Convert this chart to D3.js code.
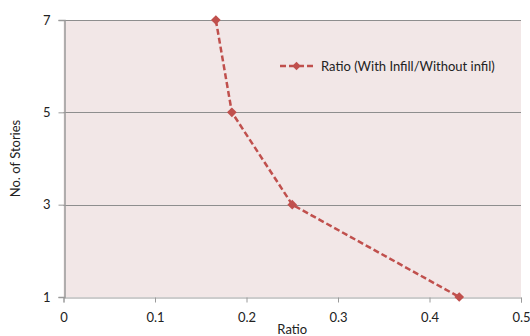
<!DOCTYPE html>
<html>
<head>
<meta charset="utf-8">
<script src="https://cdn.jsdelivr.net/npm/d3@7"></script>
<style>
  html, body { margin: 0; padding: 0; background: #fff; }
  svg { display: block; font-family: Lato, "Open Sans", sans-serif; }
</style>
</head>
<body>
<svg id="chart" width="530" height="336"></svg>
<script>
// Ratio of drift (with infill / without infill) per storey count
const stories = [7, 5, 3, 1];
const ratios = [0.1665, 0.184, 0.25, 0.4325];
const xTicks = [0, 0.1, 0.2, 0.3, 0.4, 0.5];
const yTicks = [1, 3, 5, 7];
const seriesName = "Ratio (With Infill/Without infil)";

const W = 530, H = 336;
const m = { top: 20, right: 9, bottom: 39, left: 63.5 };
const svg = d3.select("#chart");

const x = d3.scaleLinear().domain([0, 0.5]).range([m.left, W - m.right]);
const y = d3.scaleLinear().domain([1, 7]).range([H - m.bottom, m.top]);

// plot area
svg.append("rect")
  .attr("x", x(0)).attr("y", y(7))
  .attr("width", x(0.5) - x(0)).attr("height", y(1) - y(7))
  .attr("fill", "#f2e7e7");

// horizontal gridlines
svg.append("g").selectAll("line")
  .data(yTicks.filter(d => d !== 1))
  .join("line")
  .attr("x1", x(0)).attr("x2", x(0.5))
  .attr("y1", d => Math.round(y(d)) + 0.5).attr("y2", d => Math.round(y(d)) + 0.5)
  .attr("stroke", "#8e8e8e").attr("stroke-width", 1);

// y axis
const yAxis = svg.append("g")
  .attr("transform", `translate(${Math.round(x(0)) + 0.5},0)`)
  .call(d3.axisLeft(y).tickValues(yTicks).tickSize(6).tickPadding(8).tickFormat(d3.format("d")));
yAxis.select(".domain").attr("stroke", "#9a9a9a").attr("stroke-width", 1.5);
yAxis.selectAll(".tick line").attr("stroke", "#9a9a9a");
yAxis.selectAll(".tick text").attr("font-size", 13).attr("fill", "#222").attr("font-family", "Lato, sans-serif");

// x axis
const xAxis = svg.append("g")
  .attr("transform", `translate(0,${Math.round(y(1)) + 0.5})`)
  .call(d3.axisBottom(x).tickValues(xTicks).tickSize(5).tickPadding(10).tickFormat(d => d === 0 ? "0" : d3.format(".1f")(d)));
xAxis.select(".domain").attr("stroke", "#9a9a9a").attr("stroke-width", 1);
xAxis.selectAll(".tick line").attr("stroke", "#9a9a9a");
xAxis.selectAll(".tick text").attr("font-size", 13).attr("fill", "#222").attr("font-family", "Lato, sans-serif");

// axis titles
svg.append("text")
  .attr("x", (x(0) + x(0.5)) / 2).attr("y", 334)
  .attr("text-anchor", "middle").attr("font-size", 13).attr("fill", "#222")
  .text("Ratio");
svg.append("text")
  .attr("transform", `translate(20,${(y(1) + y(7)) / 2}) rotate(-90)`)
  .attr("text-anchor", "middle").attr("font-size", 13).attr("fill", "#222")
  .text("No. of Stories");

// series
const pts = stories.map((s, i) => ({ s, r: ratios[i] }));
const color = "#c0504d";
svg.append("path")
  .datum(pts)
  .attr("fill", "none").attr("stroke", color).attr("stroke-width", 2.5)
  .attr("stroke-dasharray", "6,3")
  .attr("d", d3.line().x(d => x(d.r)).y(d => y(d.s)));

const diamond = d3.symbol().type(d3.symbolDiamond2).size(60);
svg.append("g").selectAll("path")
  .data(pts)
  .join("path")
  .attr("transform", d => `translate(${x(d.r)},${y(d.s)})`)
  .attr("d", diamond)
  .attr("fill", color);

// legend
const lg = svg.append("g").attr("transform", "translate(280,66)");
lg.append("line").attr("x1", 0).attr("x2", 33).attr("y1", 0).attr("y2", 0)
  .attr("stroke", color).attr("stroke-width", 2.5).attr("stroke-dasharray", "6,3");
lg.append("path").attr("transform", "translate(16.5,0)")
  .attr("d", d3.symbol().type(d3.symbolDiamond2).size(45)).attr("fill", color);
lg.append("text").attr("x", 41).attr("y", 4.5)
  .attr("font-size", 13).attr("fill", "#222").text(seriesName);
</script>
</body>
</html>
